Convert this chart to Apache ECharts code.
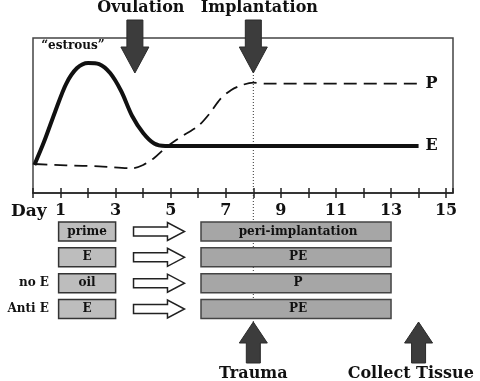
<!DOCTYPE html>
<html>
<head>
<meta charset="utf-8">
<script src="https://cdn.jsdelivr.net/npm/echarts@6.0.0/dist/echarts.min.js"></script>
<style>html,body{margin:0;padding:0;background:#fff}#c{width:480px;height:381px}</style>
</head>
<body>
<div id="c"></div>
<script>
// ---- data ----
const tickLabels = ['1','3','5','7','9','11','13','15'];
const eDays   = [0.05, 0.4, 0.8, 1.2, 1.6, 2.0, 2.4, 2.8, 3.2, 3.6, 4.0, 4.4, 4.8, 5.2, 14];
const eLevels = [18.1, 33.0, 52.3, 70.3, 80.6, 83.9, 83.2, 77.4, 65.8, 49.7, 38.7, 31.9, 30.3, 30.3, 30.3];
const pDays   = [0.05, 1.2, 2.4, 3.6, 4.0, 4.4, 4.8, 5.2, 5.6, 6.0, 6.4, 6.8, 7.2, 7.6, 8.0, 8.4, 14];
const pLevels = [18.7, 17.8, 17.2, 16.0, 18.1, 22.6, 29.0, 34.2, 38.7, 43.2, 51.0, 60.6, 66.5, 69.7, 71.2, 70.6, 70.6];
const topEvents = ['Ovulation', 'Implantation'];
const topEventDays = [3.7, 8];
const bottomEvents = ['Trauma', 'Collect Tissue'];
const bottomEventDays = [8, 14];
const implantDay = 8;
const estrousNote = '\u201cestrous\u201d';
const estrousDay = 1.45;
const estrousLevel = 95;
const rowNames = ['', '', 'no E', 'Anti E'];
const primeLabels = ['prime', 'E', 'oil', 'E'];
const primeStart = [0.93, 0.93, 0.93, 0.93];
const primeEnd = [3.0, 3.0, 3.0, 3.0];
const transferStart = [3.65, 3.65, 3.65, 3.65];
const transferEnd = [5.5, 5.5, 5.5, 5.5];
const treatLabels = ['peri-implantation', 'PE', 'P', 'PE'];
const treatStart = [6.1, 6.1, 6.1, 6.1];
const treatEnd = [13.0, 13.0, 13.0, 13.0];

// ---- styles ----
const SERIF = '"DejaVu Serif", "Liberation Serif", serif';
const font = (s) => 'bold ' + s + 'px ' + SERIF;
const XMAX = 15.25;

const chart = echarts.init(document.getElementById('c'), null, {renderer: 'canvas'});

function topArrows(params, api) {
  const x = api.coord([api.value(0), 0])[0];
  const name = topEvents[params.dataIndex];
  return {
    type: 'group',
    children: [
      {type: 'polygon', shape: {points: [[x-8,20],[x+8,20],[x+8,47],[x+14,47],[x,73],[x-14,47],[x-8,47]]},
       style: {fill: '#3c3c3c', stroke: '#2a2a2a', lineWidth: 1}},
      {type: 'text', style: {text: name, x: x + 6, y: 8, align: 'center', verticalAlign: 'middle', font: font(16), fill: '#111'}}
    ]
  };
}
function dottedLine(params, api) {
  const x = api.coord([api.value(0), 0])[0];
  return {type: 'line', shape: {x1: x, y1: 75, x2: x, y2: 322},
          style: {stroke: '#333', lineWidth: 1, lineDash: [1, 2]}};
}
function estrousText(params, api) {
  const p = api.coord([api.value(0), api.value(1)]);
  return {type: 'text', style: {text: estrousNote, x: p[0], y: p[1], align: 'center', verticalAlign: 'middle', font: font(12), fill: '#111'}};
}
function rows(params, api) {
  const i = params.dataIndex;
  const cy = api.coord([0, i])[1];
  const h = 19;
  const x0 = api.coord([primeStart[i], i])[0], x1 = api.coord([primeEnd[i], i])[0];
  const a0 = api.coord([transferStart[i], i])[0], a1 = api.coord([transferEnd[i], i])[0];
  const b0 = api.coord([treatStart[i], i])[0], b1 = api.coord([treatEnd[i], i])[0];
  const am = a1 - 17;
  return {
    type: 'group',
    children: [
      {type: 'rect', shape: {x: x0, y: cy - h/2, width: x1 - x0, height: h},
       style: {fill: '#bdbdbd', stroke: '#333', lineWidth: 1.5}},
      {type: 'text', style: {text: primeLabels[i], x: (x0 + x1)/2, y: cy, align: 'center', verticalAlign: 'middle', font: font(12), fill: '#111'}},
      {type: 'polygon', shape: {points: [[a0,cy-4.5],[am,cy-4.5],[am,cy-9],[a1,cy],[am,cy+9],[am,cy+4.5],[a0,cy+4.5]]},
       style: {fill: '#fff', stroke: '#222', lineWidth: 1.5}},
      {type: 'rect', shape: {x: b0, y: cy - h/2, width: b1 - b0, height: h},
       style: {fill: '#a6a6a6', stroke: '#444', lineWidth: 1.5}},
      {type: 'text', style: {text: treatLabels[i], x: (b0 + b1)/2 + 2, y: cy, align: 'center', verticalAlign: 'middle', font: font(12), fill: '#111'}}
    ]
  };
}
function bottomArrows(params, api) {
  const x = api.coord([api.value(0), 0])[0];
  const name = bottomEvents[params.dataIndex];
  const tx = Math.min(x, 478 - name.length * 4.8);
  return {
    type: 'group',
    children: [
      {type: 'polygon', shape: {points: [[x,322],[x+14,343],[x+7,343],[x+7,363],[x-7,363],[x-7,343],[x-14,343]]},
       style: {fill: '#3c3c3c', stroke: '#2a2a2a', lineWidth: 1}},
      {type: 'text', style: {text: name, x: tx, y: 374, align: 'center', verticalAlign: 'middle', font: font(16), fill: '#111'}}
    ]
  };
}

const endLabelStyle = {show: true, formatter: '{a}', distance: 7, fontFamily: SERIF, fontWeight: 'bold', fontSize: 16, color: '#111'};

const option = {
  animation: false,
  backgroundColor: '#fff',
  grid: [
    {left: 33, right: 27, top: 38, height: 155, show: true, borderColor: '#444', borderWidth: 1.5, backgroundColor: 'transparent'},
    {left: 33, right: 27, top: 218.6, height: 103.3}
  ],
  xAxis: [
    {type: 'value', gridIndex: 0, min: 0, max: XMAX, interval: 1, position: 'bottom',
     axisLine: {show: true, lineStyle: {color: '#222', width: 1.5}},
     axisTick: {show: true, length: 5, lineStyle: {color: '#222', width: 1.5}},
     splitLine: {show: false},
     axisLabel: {show: true, margin: 10, color: '#111', fontFamily: SERIF, fontWeight: 'bold', fontSize: 16,
       showMaxLabel: false, formatter: v => tickLabels.indexOf(String(v)) >= 0 ? String(v) : ''}},
    {type: 'value', gridIndex: 0, min: 0, max: XMAX, interval: 1, position: 'bottom',
     axisLine: {show: false}, axisTick: {show: true, inside: true, length: 5, lineStyle: {color: '#222', width: 1.5}},
     splitLine: {show: false}, axisLabel: {show: false}},
    {type: 'value', gridIndex: 1, min: 0, max: XMAX, show: false}
  ],
  yAxis: [
    {type: 'value', gridIndex: 0, min: 0, max: 100, show: false},
    {type: 'category', gridIndex: 1, data: rowNames, inverse: true, offset: -20,
     axisLine: {show: false}, axisTick: {show: false}, splitLine: {show: false},
     axisLabel: {margin: 4, color: '#111', fontFamily: SERIF, fontWeight: 'bold', fontSize: 12}}
  ],
  graphic: [
    {type: 'text', left: 11, top: 203, style: {text: 'Day', font: font(17), fill: '#111'}}
  ],
  series: [
    {name: 'E', type: 'line', xAxisIndex: 0, yAxisIndex: 0, smooth: 0.3, symbol: 'none',
     data: eDays.map((d, i) => [d, eLevels[i]]),
     lineStyle: {color: '#111', width: 4},
     endLabel: endLabelStyle},
    {name: 'P', type: 'line', xAxisIndex: 0, yAxisIndex: 0, smooth: 0.3, symbol: 'none',
     data: pDays.map((d, i) => [d, pLevels[i]]),
     lineStyle: {color: '#111', width: 1.8, type: [13, 7]},
     endLabel: endLabelStyle},
    {type: 'custom', xAxisIndex: 0, yAxisIndex: 0, renderItem: dottedLine, data: [[implantDay, 0]], clip: false, silent: true},
    {type: 'custom', xAxisIndex: 0, yAxisIndex: 0, renderItem: topArrows, data: topEventDays.map((d, i) => [d, i]), clip: false, silent: true},
    {type: 'custom', xAxisIndex: 0, yAxisIndex: 0, renderItem: estrousText, data: [[estrousDay, estrousLevel]], clip: false, silent: true},
    {type: 'custom', xAxisIndex: 2, yAxisIndex: 1, renderItem: rows, data: rowNames.map((n, i) => [primeStart[i], i]), clip: false, silent: true},
    {type: 'custom', xAxisIndex: 2, yAxisIndex: 1, renderItem: bottomArrows, data: bottomEventDays.map((d, i) => [d, 3]), clip: false, silent: true}
  ]
};
chart.setOption(option);
</script>
</body>
</html>
